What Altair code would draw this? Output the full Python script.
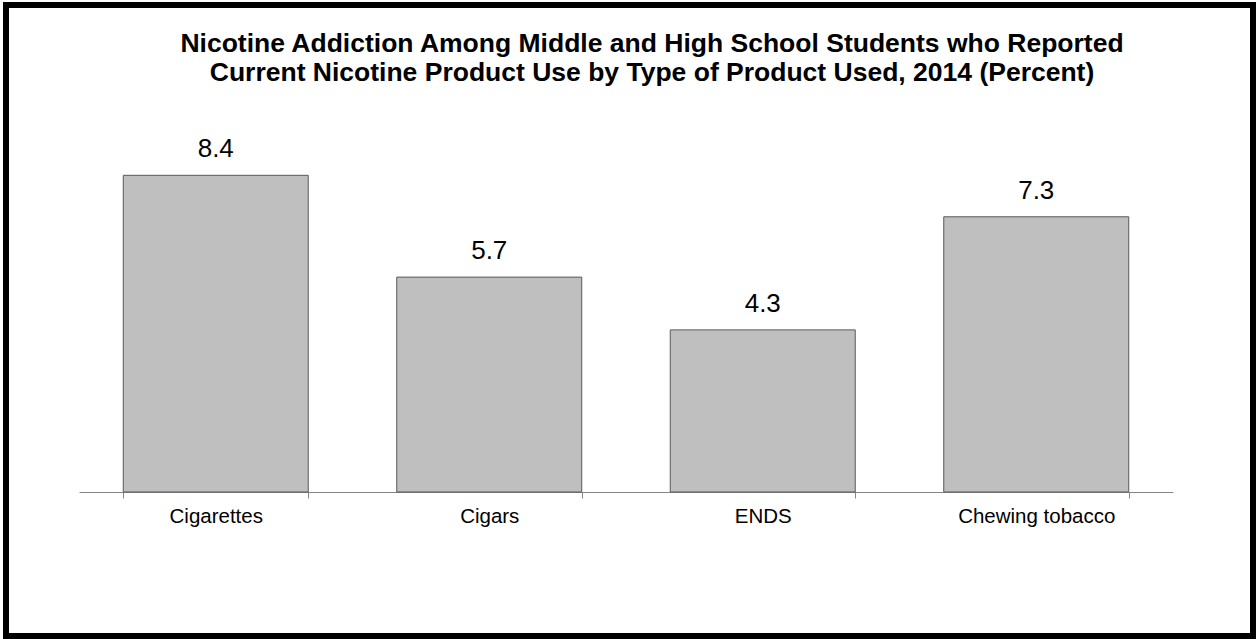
import altair as alt
import pandas as pd

categories = ["Cigarettes", "Cigars", "ENDS", "Chewing tobacco"]
values = [8.4, 5.7, 4.3, 7.3]
title_lines = ["Nicotine Addiction Among Middle and High School Students who Reported",
               "Current Nicotine Product Use by Type of Product Used, 2014 (Percent)"]

df = pd.DataFrame({"cat": categories, "val": values})
FONT = "Liberation Sans"

W, H = 1094, 377

x_enc = alt.X("cat:N", sort=categories, title=None,
              scale=alt.Scale(paddingInner=0.3236, paddingOuter=0.1618),
              axis=alt.Axis(labelAngle=0, labelFontSize=20.5, labelFont=FONT,
                            labelColor="black", domainColor="#868686",
                            tickColor="#868686", tickSize=6, tickBand="extent",
                            labelPadding=8, grid=False))
y_enc = alt.Y("val:Q", scale=alt.Scale(domain=[0, 10], nice=False), axis=None)

bars = alt.Chart(df).mark_bar(color="#BFBFBF", stroke="#595959", strokeWidth=1).encode(
    x=x_enc, y=y_enc)

labels = alt.Chart(df).mark_text(fontSize=26, font=FONT, color="black",
                                 baseline="alphabetic", dy=-18).encode(
    x=alt.X("cat:N", sort=categories), y="val:Q", text=alt.Text("val:Q", format=".1f"))

title = alt.Chart(df.head(1)).mark_text(
    text=title_lines, font=FONT, fontSize=26.5, fontWeight="bold", color="black",
    baseline="alphabetic", align="center", lineHeight=29, clip=False).encode(
    x=alt.value(573), y=alt.value(-63))

frame = alt.Chart(df.head(1)).mark_rect(fill=None, stroke="black", strokeWidth=6, clip=False).encode(
    x=alt.value(-73), x2=alt.value(1174), y=alt.value(-110), y2=alt.value(521))

chart = alt.layer(bars, labels, title, frame).properties(
    width=W, height=H,
    background="white",
    autosize=alt.AutoSizeParams(type="none"),
    padding={"left": 79, "top": 115, "right": 83, "bottom": 147},
).configure_view(stroke=None)

chart.save("out.html", embed_options={"renderer": "svg", "actions": False})
